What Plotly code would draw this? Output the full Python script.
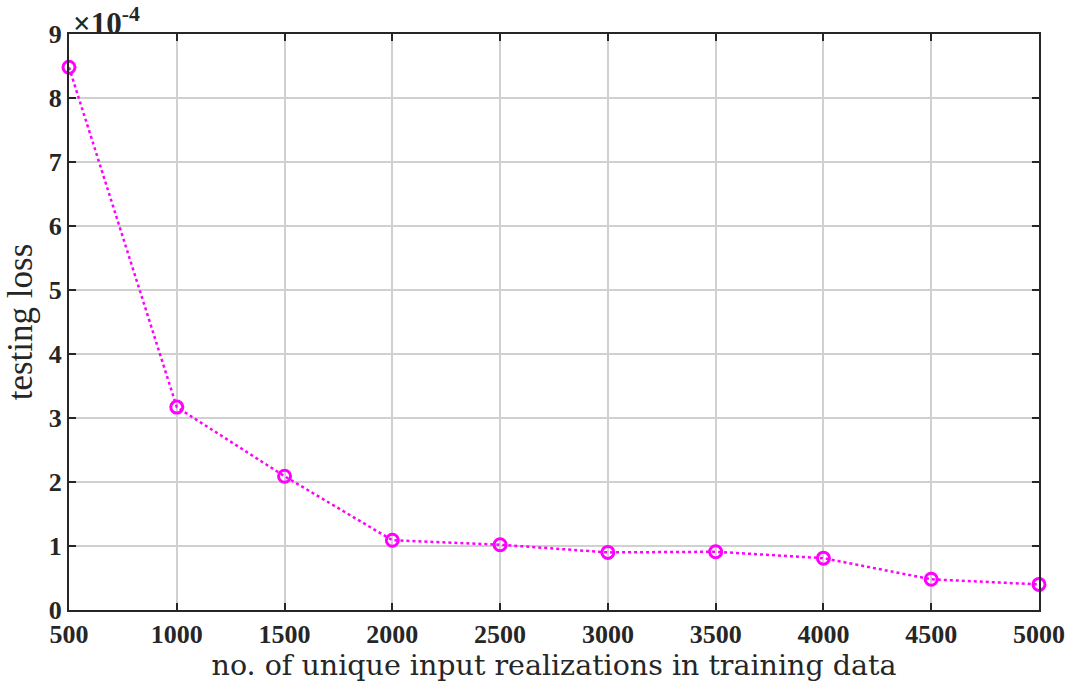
import plotly.graph_objects as go

samples = [500, 1000, 1500, 2000, 2500, 3000, 3500, 4000, 4500, 5000]
loss_e4 = [8.48, 3.17, 2.09, 1.09, 1.02, 0.90, 0.91, 0.81, 0.48, 0.40]  # testing loss in units of 1e-4
x_ticks = [500, 1000, 1500, 2000, 2500, 3000, 3500, 4000, 4500, 5000]
y_ticks = [0, 1, 2, 3, 4, 5, 6, 7, 8, 9]

font = "Liberation Serif"
title_font = "DejaVu Serif"

fig = go.Figure()
fig.add_trace(go.Scatter(
    x=samples, y=loss_e4, mode="lines+markers",
    line=dict(color="#ff00ff", width=2.5, dash="dot"),
    marker=dict(symbol="circle-open", size=12, color="#ff00ff", line=dict(width=3, color="#ff00ff")),
    cliponaxis=False, showlegend=False,
))

axis_common = dict(
    showline=True, linecolor="#262626", linewidth=2, mirror="ticks",
    ticks="inside", ticklen=7, tickwidth=2, tickcolor="#262626",
    showgrid=True, gridcolor="#d0d0d0", gridwidth=1.6,
    zeroline=False,
    tickfont=dict(family=font, size=26, color="#262626", weight="bold"),
)

fig.update_layout(
    width=1077, height=691,
    margin=dict(l=69, r=31, t=34, b=81),
    plot_bgcolor="white", paper_bgcolor="white",
    xaxis=dict(range=[500, 5000], tickvals=x_ticks, ticktext=[str(v) for v in x_ticks],
               title=dict(text="no. of unique input realizations in training data",
                          font=dict(family=title_font, size=28.5, color="#262626"), standoff=3),
               **axis_common),
    yaxis=dict(range=[0, 9], tickvals=y_ticks, ticktext=[str(v) for v in y_ticks],
               title=dict(text="testing loss", font=dict(family=font, size=35, color="#262626"), standoff=6),
               **axis_common),
    font=dict(family=font),
)

fig.add_annotation(
    x=0.002, y=1.0, xref="paper", yref="paper", xanchor="left", yanchor="bottom",
    text="<b>×10<sup>-4</sup></b>", showarrow=False,
    font=dict(family=font, size=31, color="#262626"), yshift=-9,
)

fig.write_html("out.html")
